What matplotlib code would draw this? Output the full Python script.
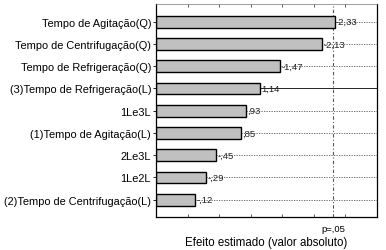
import matplotlib.pyplot as plt
from matplotlib.ticker import MultipleLocator

# Pareto chart of standardized effects
labels = ["Tempo de Agitação(Q)", "Tempo de Centrifugação(Q)", "Tempo de Refrigeração(Q)",
          "(3)Tempo de Refrigeração(L)", "1Le3L", "(1)Tempo de Agitação(L)",
          "2Le3L", "1Le2L", "(2)Tempo de Centrifugação(L)"]
effects = [-2.33, -2.13, -1.47, 1.14, 0.93, 0.85, -0.45, -0.29, -0.12]
p_value = 2.306
x_min, x_max = -0.5, 3.0


def fmt(v):
    s = f"{abs(v):.2f}".replace(".", ",")
    if s.startswith("0"):
        s = s[1:]
    return ("-" if v < 0 else "") + s


plt.rcParams['font.family'] = ['Liberation Sans', 'DejaVu Sans']
fig = plt.figure(figsize=(3.86, 2.51), dpi=100)
ax = fig.add_axes([156 / 386, 1 - 218 / 251, (377 - 156) / 386, (218 - 5) / 251])

ypos = list(range(len(labels)))
for i, v in enumerate(effects):
    ls = '-' if i == 3 else (0, (1.5, 1.5))
    ax.axhline(i, color='black' if i == 3 else '#555555', lw=0.6, ls=ls, zorder=1)

ax.barh(ypos, [abs(v) - x_min for v in effects], left=x_min, height=0.53,
        color='#c0c0c0', edgecolor='black', lw=1.0, zorder=2)
for i, v in enumerate(effects):
    ax.text(abs(v) + 0.02, i, fmt(v), fontsize=6.8, va='center', ha='left',
            color='#222222', zorder=3)

ax.axvline(p_value, color='#555555', lw=0.8, ls=(0, (3, 2, 1, 2)), zorder=1.5)

ax.set_xlim(x_min, x_max)
ax.set_ylim(len(labels) - 0.22, -0.8)
ax.set_yticks(ypos)
ax.set_yticklabels(labels, fontsize=7.9)
ax.xaxis.set_major_locator(MultipleLocator(0.5))
ax.set_xticklabels([])
ax.tick_params(axis='x', direction='in', top=True, length=2.5, width=0.6, color='#444444')
ax.tick_params(axis='y', direction='out', length=2, width=0.6, pad=1.5)
for side in ['left', 'right', 'bottom']:
    ax.spines[side].set_linewidth(0.9)
ax.spines['top'].set_linewidth(0.5)
ax.spines['top'].set_color('#777777')

ax.text(p_value, -0.035, "p=,05", transform=ax.get_xaxis_transform(), ha='center',
        va='top', fontsize=6.8)
ax.set_xlabel("Efeito estimado (valor absoluto)", fontsize=8.3, labelpad=10)

fig.savefig("out.png", dpi=100)
